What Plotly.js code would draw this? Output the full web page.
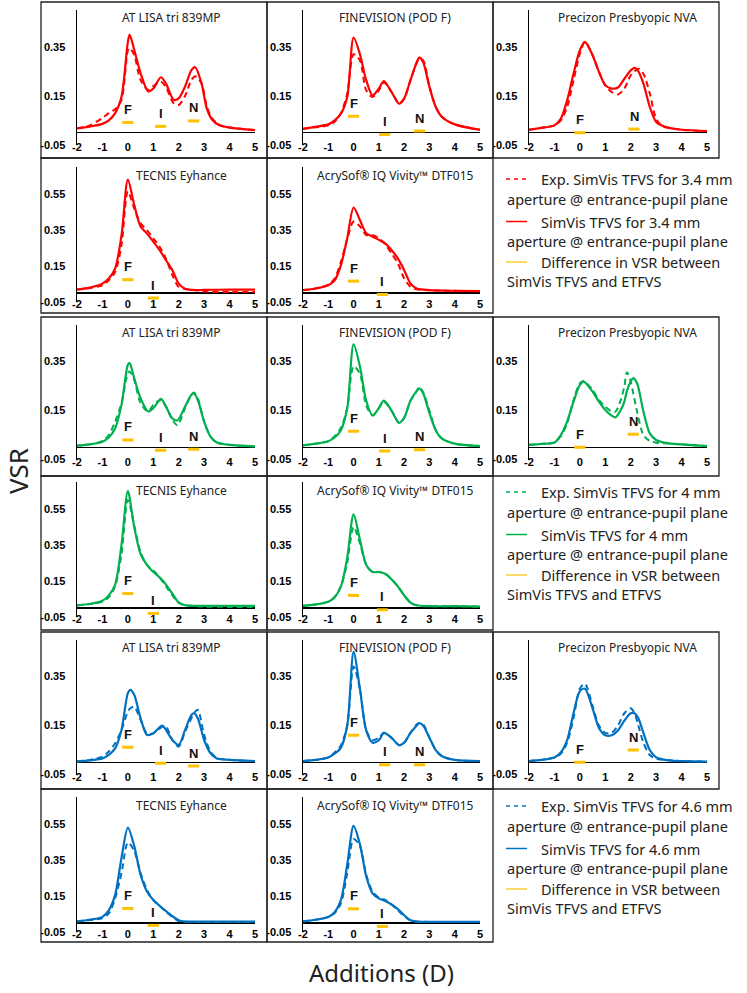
<!DOCTYPE html>
<html><head><meta charset="utf-8">
<script src="https://cdn.plot.ly/plotly-3.0.1.min.js"></script>
<style>body{margin:0;padding:0;background:#fff}#chart{width:747px;height:993px}</style>
</head><body><div id="chart"></div>
<script>
// ---------- labels ----------
const LENSES = ["AT LISA tri 839MP","FINEVISION (POD F)","Precizon Presbyopic NVA","TECNIS Eyhance","AcrySof® IQ Vivity™ DTF015"];
const APERTURES = ["3.4","4","4.6"];
const COLORS = ["#FF0000","#00B050","#0070C0"];
const DIFF_COLOR = "#FFC000";
const xTickVals = [-2,-1,0,1,2,3,4,5];
const xTickText = ["-2","-1","0","1","2","3","4","5"];
const yTickValsTri = [-0.05,0.15,0.35];
const yTickTextTri = ["-0.05","0.15","0.35"];
const yTickValsEdof = [-0.05,0.15,0.35,0.55];
const yTickTextEdof = ["-0.05","0.15","0.35","0.55"];
const labTri = ["F","I","N"];
const labPrec = ["F","N"];
const labEdof = ["F","I"];

// ---------- 3.4 mm ----------
const add_lisa_34 = [-2,-1.5,-1,-0.75,-0.5,-0.25,0,0.07,0.25,0.5,0.8,1.0,1.3,1.5,1.8,2.0,2.25,2.5,2.65,2.9,3.1,3.3,3.6,4,5];
const sim_lisa_34 = [0.018,0.025,0.036,0.05,0.08,0.147,0.37,0.40,0.338,0.243,0.168,0.18,0.226,0.2,0.134,0.14,0.188,0.255,0.267,0.2,0.1,0.055,0.03,0.021,0.011];
const exp_lisa_34 = [0.018,0.03,0.06,0.08,0.096,0.134,0.335,0.345,0.317,0.215,0.174,0.19,0.208,0.185,0.12,0.113,0.15,0.215,0.23,0.2,0.11,0.06,0.032,0.021,0.011];
const dAdd_lisa_34 = [0,1.29,2.59];
const dVsr_lisa_34 = [0.042,0.026,0.048];

const add_fine_34 = [-2,-1.5,-1,-0.75,-0.5,-0.25,0,0.25,0.5,0.75,1.0,1.2,1.5,1.8,2.0,2.25,2.5,2.6,2.75,3.0,3.25,3.5,4,5];
const sim_fine_34 = [0.016,0.024,0.034,0.05,0.078,0.146,0.388,0.32,0.214,0.152,0.18,0.21,0.166,0.118,0.139,0.214,0.288,0.306,0.288,0.186,0.105,0.064,0.034,0.012];
const exp_fine_34 = [0.016,0.022,0.03,0.045,0.08,0.16,0.32,0.295,0.173,0.146,0.173,0.205,0.166,0.12,0.139,0.214,0.285,0.30,0.295,0.19,0.105,0.064,0.034,0.012];
const dAdd_fine_34 = [0,1.23,2.61];
const dVsr_fine_34 = [0.067,-0.007,0.007];

const add_prec_34 = [-2,-1.5,-1,-0.75,-0.5,-0.25,0,0.2,0.5,0.75,1.0,1.25,1.5,1.75,2.0,2.15,2.3,2.5,2.75,3.0,3.25,3.5,4,5];
const sim_prec_34 = [0.012,0.02,0.03,0.057,0.132,0.24,0.336,0.37,0.316,0.248,0.193,0.18,0.184,0.22,0.254,0.264,0.25,0.2,0.105,0.044,0.028,0.02,0.012,0.007];
const exp_prec_34 = [0.012,0.02,0.03,0.05,0.105,0.213,0.322,0.37,0.316,0.248,0.193,0.166,0.156,0.18,0.234,0.25,0.261,0.24,0.16,0.057,0.026,0.02,0.012,0.007];
const dAdd_prec_34 = [0,2.13];
const dVsr_prec_34 = [0.0,0.015];

const add_tec_34 = [-2,-1.5,-1,-0.75,-0.5,-0.25,0,0.25,0.5,0.75,1.0,1.25,1.5,1.75,2.0,2.25,2.5,3,4,5];
const sim_tec_34 = [0.019,0.03,0.052,0.08,0.136,0.32,0.63,0.49,0.37,0.33,0.285,0.238,0.182,0.127,0.052,0.024,0.017,0.017,0.019,0.019];
const exp_tec_34 = [0.019,0.028,0.043,0.07,0.117,0.266,0.564,0.47,0.387,0.35,0.303,0.257,0.19,0.1,0.033,0.022,0.019,0.008,0.006,0.006];
const dAdd_tec_34 = [0,1.0];
const dVsr_tec_34 = [0.074,-0.028];

const add_viv_34 = [-2,-1.5,-1,-0.75,-0.5,-0.25,0,0.25,0.5,0.75,1.0,1.25,1.5,1.75,2.0,2.25,2.5,3,4,5];
const sim_viv_34 = [0.016,0.025,0.043,0.07,0.155,0.304,0.475,0.406,0.332,0.313,0.295,0.276,0.239,0.192,0.127,0.053,0.025,0.016,0.012,0.01];
const exp_viv_34 = [0.016,0.025,0.047,0.08,0.173,0.30,0.397,0.37,0.322,0.322,0.304,0.27,0.22,0.165,0.081,0.035,0.02,0.015,0.012,0.01];
const dAdd_viv_34 = [0,1.14];
const dVsr_viv_34 = [0.066,-0.008];

// ---------- 4 mm ----------
const add_lisa_40 = [-2,-1.5,-1,-0.75,-0.5,-0.25,0,0.07,0.25,0.5,0.8,1.0,1.3,1.5,1.75,1.95,2.25,2.5,2.6,2.75,3.0,3.25,3.5,4,5];
const sim_lisa_40 = [0.007,0.012,0.023,0.04,0.078,0.173,0.336,0.343,0.282,0.2,0.146,0.159,0.197,0.166,0.118,0.11,0.166,0.214,0.219,0.193,0.105,0.044,0.02,0.01,0.004];
const exp_lisa_40 = [0.007,0.012,0.026,0.05,0.105,0.18,0.302,0.309,0.275,0.18,0.146,0.173,0.193,0.166,0.112,0.09,0.16,0.214,0.223,0.2,0.105,0.044,0.02,0.01,0.004];
const dAdd_lisa_40 = [0,1.29,2.59];
const dVsr_lisa_40 = [0.03,-0.012,-0.008];

const add_fine_40 = [-2,-1.5,-1,-0.75,-0.5,-0.25,0,0.25,0.5,0.75,1.0,1.2,1.5,1.8,2.0,2.25,2.5,2.6,2.75,3.0,3.25,3.5,4,5];
const sim_fine_40 = [0.008,0.015,0.025,0.04,0.07,0.16,0.42,0.33,0.19,0.13,0.16,0.19,0.15,0.1,0.12,0.19,0.23,0.24,0.22,0.14,0.07,0.035,0.015,0.005];
const exp_fine_40 = [0.008,0.015,0.025,0.045,0.08,0.16,0.33,0.30,0.17,0.13,0.16,0.185,0.15,0.1,0.12,0.19,0.23,0.245,0.225,0.15,0.07,0.035,0.015,0.005];
const dAdd_fine_40 = [0,1.23,2.61];
const dVsr_fine_40 = [0.065,-0.015,-0.01];

const add_prec_40 = [-2,-1.5,-1,-0.75,-0.5,-0.25,0,0.15,0.5,0.75,1.0,1.25,1.4,1.6,1.75,1.85,2.0,2.1,2.25,2.5,2.75,3.0,3.5,4,5];
const sim_prec_40 = [0.01,0.014,0.02,0.05,0.105,0.186,0.254,0.268,0.227,0.186,0.152,0.129,0.122,0.15,0.186,0.23,0.268,0.282,0.261,0.146,0.057,0.03,0.016,0.012,0.005];
const exp_prec_40 = [0.01,0.014,0.02,0.045,0.098,0.193,0.261,0.27,0.234,0.193,0.166,0.146,0.145,0.19,0.248,0.306,0.268,0.22,0.146,0.05,0.026,0.019,0.016,0.012,0.005];
const dAdd_prec_40 = [0,2.1];
const dVsr_prec_40 = [0.0,0.053];

const add_tec_40 = [-2,-1.5,-1,-0.75,-0.5,-0.25,0,0.25,0.5,0.75,1.0,1.25,1.5,1.75,2.0,2.25,2.5,3,4,5];
const sim_tec_40 = [0.015,0.022,0.04,0.07,0.13,0.35,0.65,0.45,0.3,0.24,0.2,0.17,0.13,0.08,0.03,0.015,0.012,0.012,0.012,0.012];
const exp_tec_40 = [0.015,0.022,0.035,0.06,0.12,0.3,0.60,0.46,0.31,0.24,0.21,0.17,0.12,0.07,0.03,0.015,0.012,0.008,0.006,0.006];
const dAdd_tec_40 = [0,1.0];
const dVsr_tec_40 = [0.08,-0.03];

const add_viv_40 = [-2,-1.5,-1,-0.75,-0.5,-0.25,0,0.25,0.5,0.75,1.0,1.25,1.5,1.75,2.0,2.25,2.5,3,4,5];
const sim_viv_40 = [0.012,0.02,0.035,0.06,0.12,0.28,0.52,0.38,0.24,0.2,0.2,0.19,0.16,0.12,0.07,0.03,0.015,0.01,0.01,0.008];
const exp_viv_40 = [0.012,0.02,0.035,0.06,0.12,0.25,0.45,0.36,0.24,0.2,0.2,0.19,0.16,0.12,0.07,0.03,0.015,0.01,0.01,0.008];
const dAdd_viv_40 = [0,1.14];
const dVsr_viv_40 = [0.07,-0.01];

// ---------- 4.6 mm ----------
const add_lisa_46 = [-2,-1.5,-1,-0.75,-0.5,-0.25,0,0.1,0.25,0.5,0.75,1.0,1.35,1.5,1.75,2.0,2.25,2.5,2.6,2.75,3.0,3.25,3.5,4,5];
const sim_lisa_46 = [0.003,0.008,0.016,0.03,0.057,0.132,0.282,0.295,0.275,0.18,0.112,0.118,0.15,0.132,0.091,0.071,0.132,0.193,0.2,0.18,0.091,0.037,0.016,0.01,0.005];
const exp_lisa_46 = [0.003,0.01,0.023,0.044,0.078,0.132,0.207,0.22,0.227,0.173,0.118,0.118,0.145,0.146,0.091,0.064,0.125,0.18,0.2,0.214,0.112,0.044,0.018,0.01,0.005];
const dAdd_lisa_46 = [0,1.29,2.59];
const dVsr_lisa_46 = [0.061,-0.004,-0.015];

const add_fine_46 = [-2,-1.5,-1,-0.75,-0.5,-0.25,0,0.25,0.5,0.75,1.0,1.2,1.5,1.8,2.0,2.25,2.5,2.6,2.75,3.0,3.25,3.5,4,5];
const sim_fine_46 = [0.005,0.01,0.02,0.035,0.06,0.15,0.45,0.3,0.13,0.08,0.09,0.12,0.1,0.07,0.08,0.12,0.15,0.16,0.15,0.1,0.05,0.025,0.01,0.005];
const exp_fine_46 = [0.005,0.01,0.02,0.04,0.07,0.15,0.39,0.3,0.13,0.09,0.1,0.12,0.1,0.07,0.08,0.12,0.155,0.16,0.155,0.1,0.05,0.025,0.01,0.005];
const dAdd_fine_46 = [0,1.23,2.61];
const dVsr_fine_46 = [0.11,-0.01,-0.01];

const add_prec_46 = [-2,-1.5,-1,-0.75,-0.5,-0.25,0,0.2,0.5,0.75,1.0,1.25,1.5,1.75,2.0,2.15,2.3,2.5,2.75,3.0,3.25,3.5,4,5];
const sim_prec_46 = [0.005,0.01,0.02,0.04,0.09,0.2,0.29,0.3,0.22,0.14,0.11,0.11,0.13,0.17,0.2,0.2,0.18,0.12,0.05,0.02,0.012,0.008,0.005,0.003];
const exp_prec_46 = [0.005,0.01,0.02,0.035,0.08,0.18,0.30,0.32,0.23,0.15,0.12,0.12,0.15,0.2,0.22,0.2,0.15,0.08,0.03,0.015,0.01,0.008,0.005,0.003];
const dAdd_prec_46 = [0,2.1];
const dVsr_prec_46 = [0.0,0.05];

const add_tec_46 = [-2,-1.5,-1,-0.75,-0.5,-0.25,0,0.25,0.5,0.75,1.0,1.25,1.5,1.75,2.0,2.25,2.5,3,4,5];
const sim_tec_46 = [0.009,0.018,0.034,0.07,0.156,0.362,0.53,0.428,0.268,0.175,0.128,0.096,0.066,0.038,0.015,0.008,0.008,0.008,0.008,0.008];
const exp_tec_46 = [0.009,0.016,0.028,0.053,0.137,0.278,0.447,0.4,0.278,0.184,0.128,0.094,0.062,0.034,0.011,0.007,0.006,0.006,0.006,0.006];
const dAdd_tec_46 = [0,1.0];
const dVsr_tec_46 = [0.081,-0.013];

const add_viv_46 = [-2,-1.5,-1,-0.75,-0.5,-0.25,0,0.25,0.5,0.75,1.0,1.25,1.5,1.75,2.0,2.25,2.5,3,4,5];
const sim_viv_46 = [0.009,0.018,0.034,0.06,0.128,0.325,0.54,0.438,0.26,0.165,0.137,0.122,0.103,0.077,0.043,0.015,0.008,0.006,0.006,0.006];
const exp_viv_46 = [0.009,0.018,0.034,0.055,0.109,0.278,0.466,0.428,0.268,0.175,0.141,0.128,0.103,0.071,0.039,0.015,0.008,0.006,0.006,0.006];
const dAdd_viv_46 = [0,1.14];
const dVsr_viv_46 = [0.079,-0.019];

// ---------- legend text ----------
const legendLines = [
  ["Exp. SimVis TFVS for 3.4 mm","aperture @ entrance-pupil plane","SimVis TFVS for 3.4 mm","aperture @ entrance-pupil plane","Difference in VSR between","SimVis TFVS and ETFVS"],
  ["Exp. SimVis TFVS for 4 mm","aperture @ entrance-pupil plane","SimVis TFVS for 4 mm","aperture @ entrance-pupil plane","Difference in VSR between","SimVis TFVS and ETFVS"],
  ["Exp. SimVis TFVS for 4.6 mm","aperture @ entrance-pupil plane","SimVis TFVS for 4.6 mm","aperture @ entrance-pupil plane","Difference in VSR between","SimVis TFVS and ETFVS"]
];

const panels = [
  {lens:0,ap:0,x:add_lisa_34,sim:sim_lisa_34,exp:exp_lisa_34,dx:dAdd_lisa_34,dy:dVsr_lisa_34,lab:labTri},
  {lens:1,ap:0,x:add_fine_34,sim:sim_fine_34,exp:exp_fine_34,dx:dAdd_fine_34,dy:dVsr_fine_34,lab:labTri},
  {lens:2,ap:0,x:add_prec_34,sim:sim_prec_34,exp:exp_prec_34,dx:dAdd_prec_34,dy:dVsr_prec_34,lab:labPrec},
  {lens:3,ap:0,x:add_tec_34,sim:sim_tec_34,exp:exp_tec_34,dx:dAdd_tec_34,dy:dVsr_tec_34,lab:labEdof},
  {lens:4,ap:0,x:add_viv_34,sim:sim_viv_34,exp:exp_viv_34,dx:dAdd_viv_34,dy:dVsr_viv_34,lab:labEdof},
  {lens:0,ap:1,x:add_lisa_40,sim:sim_lisa_40,exp:exp_lisa_40,dx:dAdd_lisa_40,dy:dVsr_lisa_40,lab:labTri},
  {lens:1,ap:1,x:add_fine_40,sim:sim_fine_40,exp:exp_fine_40,dx:dAdd_fine_40,dy:dVsr_fine_40,lab:labTri},
  {lens:2,ap:1,x:add_prec_40,sim:sim_prec_40,exp:exp_prec_40,dx:dAdd_prec_40,dy:dVsr_prec_40,lab:labPrec},
  {lens:3,ap:1,x:add_tec_40,sim:sim_tec_40,exp:exp_tec_40,dx:dAdd_tec_40,dy:dVsr_tec_40,lab:labEdof},
  {lens:4,ap:1,x:add_viv_40,sim:sim_viv_40,exp:exp_viv_40,dx:dAdd_viv_40,dy:dVsr_viv_40,lab:labEdof},
  {lens:0,ap:2,x:add_lisa_46,sim:sim_lisa_46,exp:exp_lisa_46,dx:dAdd_lisa_46,dy:dVsr_lisa_46,lab:labTri},
  {lens:1,ap:2,x:add_fine_46,sim:sim_fine_46,exp:exp_fine_46,dx:dAdd_fine_46,dy:dVsr_fine_46,lab:labTri},
  {lens:2,ap:2,x:add_prec_46,sim:sim_prec_46,exp:exp_prec_46,dx:dAdd_prec_46,dy:dVsr_prec_46,lab:labPrec},
  {lens:3,ap:2,x:add_tec_46,sim:sim_tec_46,exp:exp_tec_46,dx:dAdd_tec_46,dy:dVsr_tec_46,lab:labEdof},
  {lens:4,ap:2,x:add_viv_46,sim:sim_viv_46,exp:exp_viv_46,dx:dAdd_viv_46,dy:dVsr_viv_46,lab:labEdof}
];

// ---------- geometry (pixels) ----------
const W = 747, H = 993;
const colL = [77,303,529], colR = [255,480,707];
const rowBot = [145,302,459.6,617,774.6,932];
const plotH = 135;
const titleDx = [5,3.5,9.5,15.5,3.5];
const boxX = [41,267,493,719];
const boxRows = [[2,158],[158,313],[317,476],[476,630],[632,789],[789,942]];
const legendTop = [179,492,806];
const legendOff = [0,19.5,42.5,62,83,102];
const BAR_HALF = 0.22;

const px = v => v / W;
const py = v => 1 - v / H;
const bold = a => a.map(t => "<b>" + t + "</b>");
const tickFont = {family:"'Liberation Sans', Arial, sans-serif", size:11, color:"#000"};
const titleFont = {family:"'Noto Sans', sans-serif", size:12, color:"#222"};
const legFont = {family:"'Noto Sans', sans-serif", size:14.5, color:"#222"};

const traces = [], annotations = [], shapes = [];
const layout = {width:W, height:H, margin:{l:0,r:0,t:0,b:0}, showlegend:false,
  paper_bgcolor:"#fff", plot_bgcolor:"rgba(0,0,0,0)", hovermode:false};

panels.forEach((p, i) => {
  const n = i + 1, sfx = n === 1 ? "" : String(n);
  const xa = "x" + sfx, ya = "y" + sfx;
  const edof = p.lens >= 3;
  const row = edof ? 2 * p.ap + 1 : 2 * p.ap;
  const col = edof ? p.lens - 3 : p.lens;
  const bot = rowBot[row], top = bot - plotH;
  const color = COLORS[p.ap];
  layout["xaxis" + sfx] = {domain:[px(colL[col]), px(colR[col])], range:[-2,5], anchor:"free",
    position: py(bot - 6), tickvals:xTickVals, ticktext:bold(xTickText), showline:false, showgrid:false,
    zeroline:false, ticks:"", tickfont:tickFont, fixedrange:true};
  layout["yaxis" + sfx] = {domain:[py(bot), py(top)], range: edof ? [-0.05,0.7] : [-0.05,0.5], anchor:xa,
    tickvals: edof ? yTickValsEdof : yTickValsTri, ticktext: bold(edof ? yTickTextEdof : yTickTextTri),
    showline:true, linecolor:"#000", linewidth:1.5, zeroline:true, zerolinecolor:"#000", zerolinewidth:1.5,
    showgrid:false, ticks:"", ticklabelstandoff:8, tickfont:tickFont, fixedrange:true};
  traces.push({type:"scatter", mode:"lines", x:p.x, y:p.exp, xaxis:xa, yaxis:ya,
    line:{color:color, width:2, dash:"6px,4px", shape:"spline", smoothing:0.8}});
  traces.push({type:"scatter", mode:"lines", x:p.x, y:p.sim, xaxis:xa, yaxis:ya,
    line:{color:color, width:2.2, shape:"spline", smoothing:0.8}});
  const bx = [], by = [];
  p.dx.forEach((d, k) => { bx.push(d - BAR_HALF, d + BAR_HALF, null); by.push(p.dy[k], p.dy[k], null); });
  traces.push({type:"scatter", mode:"lines", x:bx, y:by, xaxis:xa, yaxis:ya,
    line:{color:DIFF_COLOR, width:3}});
  p.lab.forEach((t, k) => annotations.push({x:p.dx[k], y:p.dy[k], xref:xa, yref:ya, text:"<b>" + t + "</b>", showarrow:false,
    yshift:13, font:{family:"'Liberation Sans', Arial, sans-serif", size:13, color:"#111"}}));
  annotations.push({x:px((colL[col] + colR[col]) / 2 + titleDx[p.lens]), y:py(top + 8), xref:"paper", yref:"paper",
    text:LENSES[p.lens], showarrow:false, xanchor:"center", yanchor:"middle", font:titleFont});
});

// boxes
boxRows.forEach((r, ri) => {
  const ncols = ri % 2 === 0 ? 3 : 2;
  for (let c = 0; c < ncols; c++) {
    shapes.push({type:"rect", xref:"paper", yref:"paper", x0:px(boxX[c]), x1:px(boxX[c+1]), y0:py(r[1]), y1:py(r[0]),
      line:{color:"#222", width:1.3}, fillcolor:"rgba(0,0,0,0)"});
  }
});

// legends
legendLines.forEach((lines, g) => {
  const t = legendTop[g];
  const sampleY = [legendOff[0], legendOff[2], legendOff[4]];
  const sampleStyle = [
    {color:COLORS[g], width:1.5, dash:"4px,4px"},
    {color:COLORS[g], width:1.5},
    {color:DIFF_COLOR, width:1.2}
  ];
  sampleY.forEach((o, k) => shapes.push({type:"line", xref:"paper", yref:"paper",
    x0:px(506), x1:px(527), y0:py(t + o), y1:py(t + o), line:sampleStyle[k]}));
  lines.forEach((txt, k) => annotations.push({x:px(k % 2 === 0 ? 539 : 505), y:py(t + legendOff[k]),
    xref:"paper", yref:"paper", text:txt, showarrow:false, xanchor:"left", yanchor:"middle", font:legFont}));
});

// global axis titles
annotations.push({x:px(18), y:py(471), xref:"paper", yref:"paper", text:"VSR", textangle:-90, showarrow:false,
  xanchor:"center", yanchor:"middle", font:{family:"'Noto Sans', sans-serif", size:26, color:"#222"}});
annotations.push({x:px(381), y:py(972), xref:"paper", yref:"paper", text:"Additions (D)", showarrow:false,
  xanchor:"center", yanchor:"middle", font:{family:"'Noto Sans', sans-serif", size:24, color:"#222"}});

layout.annotations = annotations;
layout.shapes = shapes;
Plotly.newPlot("chart", traces, layout, {staticPlot:true, displayModeBar:false});
</script></body></html>
